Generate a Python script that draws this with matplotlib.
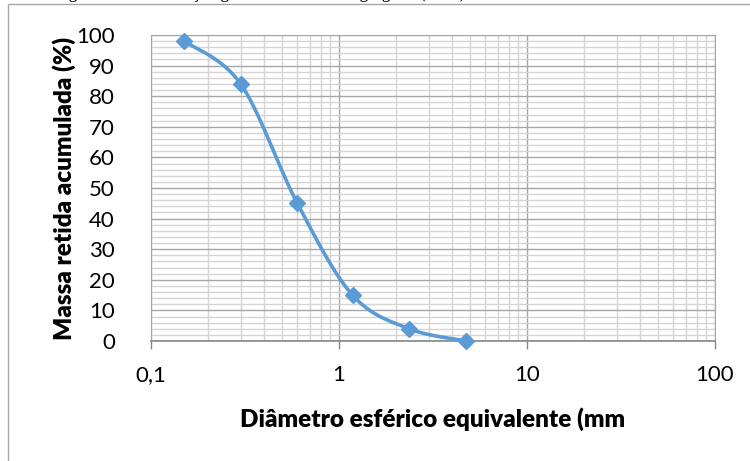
import numpy as np
import matplotlib
matplotlib.use("Agg")
import matplotlib.pyplot as plt
from matplotlib.patches import Rectangle
from matplotlib.ticker import FixedLocator, FuncFormatter, LogLocator, NullFormatter

# sieve openings (mm) and cumulative retained mass (%)
diametro = [0.15, 0.3, 0.6, 1.18, 2.36, 4.75]
massa_retida = [98, 84, 45, 15, 4, 0]

x_ticks = [0.1, 1, 10, 100]
x_tick_labels = ["0,1", "1", "10", "100"]
y_ticks = list(range(0, 101, 10))

plt.rcParams['font.family'] = ['Lato', 'DejaVu Sans']

fig = plt.figure(figsize=(7.5, 4.61), dpi=100)
fig.patch.set_facecolor("white")

# caption of the figure, mostly cut off above the image
fig.text(0.072, 1.0 + 2.5 / 461, "Figura 2 – Distribuição granulométrica do agregado (areia)",
         family=['Liberation Serif', 'DejaVu Serif'], fontsize=12.5, ha='left', va='baseline')

# outer chart frame (runs off the right and bottom edges)
fig.patches.append(Rectangle((8 / 750, -0.05), 1.1, 1 - 4 / 461 + 0.05,
                             transform=fig.transFigure, fill=False,
                             edgecolor="#a6a6a6", linewidth=1.0))

ax = fig.add_axes([151 / 750, 1 - 341 / 461, 564 / 750, 306 / 461])
ax.set_xscale("log")
ax.set_xlim(0.1, 100)
ax.set_ylim(0, 100)

# smoothed line like a spreadsheet "smooth line" (Bezier through the points)
lx = np.log10(diametro)
yy = np.array(massa_retida, dtype=float)
px = np.concatenate([[lx[0]], lx, [lx[-1]]])
py = np.concatenate([[yy[0]], yy, [yy[-1]]])
t = np.linspace(0, 1, 40)
cx, cy = [], []
for i in range(1, len(px) - 2):
    p0 = np.array([px[i], py[i]])
    p3 = np.array([px[i + 1], py[i + 1]])
    p1 = p0 + (np.array([px[i + 1], py[i + 1]]) - np.array([px[i - 1], py[i - 1]])) / 6
    p2 = p3 - (np.array([px[i + 2], py[i + 2]]) - np.array([px[i], py[i]])) / 6
    b = ((1 - t) ** 3)[:, None] * p0 + (3 * (1 - t) ** 2 * t)[:, None] * p1 \
        + (3 * (1 - t) * t ** 2)[:, None] * p2 + (t ** 3)[:, None] * p3
    cx.extend(b[:, 0])
    cy.extend(b[:, 1])

ax.plot(10 ** np.array(cx), cy, color="#5b9bd5", linewidth=2.6, zorder=3, clip_on=False)
ax.plot(diametro, massa_retida, linestyle="none", marker="D", markersize=8,
        color="#5b9bd5", zorder=4, clip_on=False)

# grid
ax.xaxis.set_major_locator(FixedLocator(x_ticks))
ax.xaxis.set_major_formatter(FuncFormatter(lambda v, p: x_tick_labels[x_ticks.index(v)] if v in x_ticks else ""))
ax.xaxis.set_minor_locator(LogLocator(base=10, subs=np.arange(2, 10)))
ax.xaxis.set_minor_formatter(NullFormatter())
ax.yaxis.set_major_locator(FixedLocator(y_ticks))
ax.yaxis.set_minor_locator(FixedLocator(list(range(0, 101, 2))))

ax.grid(True, which="major", color="#a6a6a6", linewidth=1.0)
ax.grid(True, which="minor", color="#d4d4d4", linewidth=1.0)
ax.set_axisbelow(True)

ax.tick_params(axis="x", which="major", direction="out", length=6, width=1,
               color="#868686", pad=11, labelsize=16)
ax.tick_params(axis="x", which="minor", length=0)
ax.tick_params(axis="y", which="both", length=0, pad=26, labelsize=16)

for side in ["left", "top", "right"]:
    ax.spines[side].set_color("#a6a6a6")
ax.spines["bottom"].set_color("#868686")
ax.spines["bottom"].set_linewidth(1.2)

ax.set_xlabel("Diâmetro esférico equivalente (mm", fontsize=17.5, fontweight="heavy", labelpad=16)
ax.set_ylabel("Massa retida acumulada (%)", fontsize=17.5, fontweight="heavy", labelpad=0)

fig.savefig("out.png", dpi=100)
